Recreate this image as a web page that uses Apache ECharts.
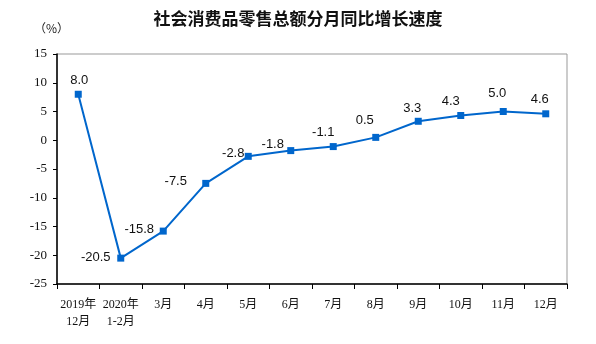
<!DOCTYPE html>
<html>
<head>
<meta charset="utf-8">
<script src="https://cdn.jsdelivr.net/npm/echarts@6/dist/echarts.min.js"></script>
<style>
  html, body { margin: 0; padding: 0; background: #fff; }
  #chart { width: 596px; height: 344px; }
</style>
</head>
<body>
<div id="chart"></div>
<script>
// Month labels (first two span two lines)
const categories = ['2019年\n12月', '2020年\n1-2月', '3月', '4月', '5月', '6月', '7月', '8月', '9月', '10月', '11月', '12月'];
// Year-on-year growth of retail sales, %
const growth = [8.0, -20.5, -15.8, -7.5, -2.8, -1.8, -1.1, 0.5, 3.3, 4.3, 5.0, 4.6];
// Label placement tweaks (dx, dy) around each point
const labelOffsets = [[1, 1], [-25, 14], [-24, 13], [-30, 13], [-15, 12], [-18, 9], [-10, 1], [-11, -2], [-6, 2], [-10, 1], [-6, -3], [-6, 1]];

const chart = echarts.init(document.getElementById('chart'), null, { renderer: 'canvas' });

const serif = '"Liberation Serif", "Noto Sans CJK SC", serif';
const sans = '"Liberation Sans", Arial, sans-serif';

chart.setOption({
  animation: false,
  backgroundColor: '#fff',
  title: {
    text: '社会消费品零售总额分月同比增长速度',
    left: 'center',
    top: 5,
    textStyle: { fontFamily: '"Noto Sans CJK SC", sans-serif', fontSize: 17, fontWeight: 'bold', color: '#111' }
  },
  graphic: [{
    type: 'text',
    left: 34,
    top: 22,
    style: { text: '（%）', font: '12px "Noto Sans CJK SC", sans-serif', fill: '#222' }
  }],
  grid: {
    left: 57, right: 29, top: 54, bottom: 60,
    show: true, borderColor: '#999', borderWidth: 1, backgroundColor: 'transparent'
  },
  xAxis: {
    type: 'category',
    data: categories,
    boundaryGap: true,
    axisLine: { onZero: false, lineStyle: { color: '#000', width: 1.5 } },
    axisTick: { show: true, length: 5, inside: false, lineStyle: { color: '#000' } },
    axisLabel: { fontFamily: serif, fontSize: 12, color: '#111', margin: 12, lineHeight: 17, interval: 0 },
    splitLine: { show: false }
  },
  yAxis: {
    type: 'value',
    min: -25, max: 15, interval: 5,
    axisLine: { show: true, onZero: false, lineStyle: { color: '#000', width: 1.5 } },
    axisTick: { show: true, length: 4, lineStyle: { color: '#000' } },
    axisLabel: { fontFamily: serif, fontSize: 13, color: '#111', margin: 10 },
    splitLine: { show: false }
  },
  series: [{
    type: 'line',
    data: growth.map((v, i) => ({
      value: v,
      label: { offset: labelOffsets[i] }
    })),
    symbol: 'rect',
    symbolSize: 7,
    lineStyle: { color: '#0066CC', width: 2 },
    itemStyle: { color: '#0066CC' },
    label: {
      show: true,
      position: 'top',
      distance: 5,
      fontFamily: sans,
      fontSize: 13,
      color: '#111',
      formatter: p => p.value.toFixed(1)
    }
  }]
});
</script>
</body>
</html>
